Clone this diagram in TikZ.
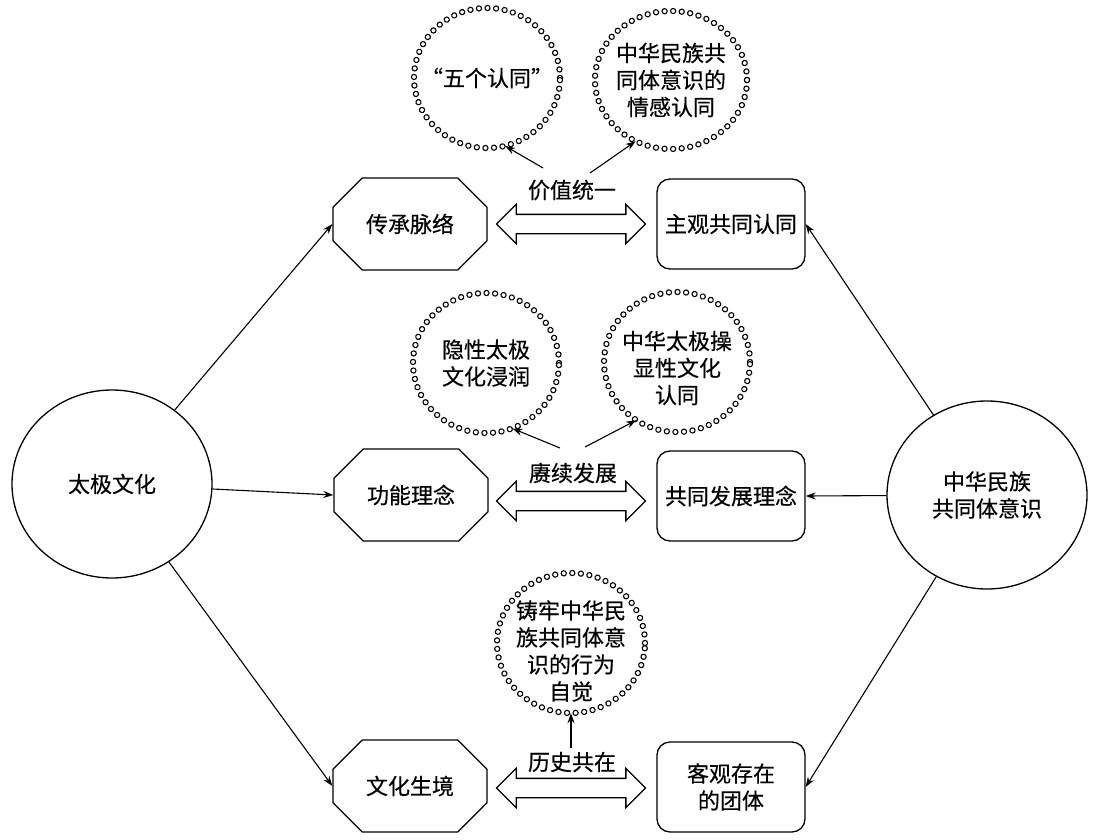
\documentclass[tikz,border=0pt]{standalone}
\usepackage{fontspec}
\newfontfamily\cjk[FakeBold=0.4]{Noto Sans CJK SC}
\usetikzlibrary{shapes.geometric, shapes.misc, shapes.arrows, arrows.meta, decorations.markings}

\tikzset{
  every node/.style={font=\cjk\fontsize{22}{27}\selectfont, align=center},
  bigring/.style={ellipse, draw, line width=1.3pt, minimum width=200pt, minimum height=188pt, inner sep=0pt},
  octbox/.style={chamfered rectangle, draw, line width=1.3pt, chamfered rectangle xsep=19pt,
    chamfered rectangle ysep=19pt, minimum width=154pt, minimum height=92pt, inner sep=0pt},
  roundbox/.style={rectangle, draw, line width=1.3pt, rounded corners=13pt, minimum width=148pt,
    minimum height=90pt, inner sep=0pt},
  dotring/.style={ellipse, minimum width=146pt, minimum height=140pt, inner sep=0pt,
    postaction={decorate, decoration={markings, mark=between positions 0 and 1 step 8.6pt with
      {\draw[line width=1.1pt, fill=white] (0,0) circle (2.6pt);}}}},
  twoway/.style={double arrow, draw, line width=1.3pt, double arrow head extend=10pt,
    minimum height=149pt, inner sep=9pt},
  link/.style={-{Stealth[length=10pt, width=7pt]}, line width=1.1pt}
}

\begin{document}
\begin{tikzpicture}[x=1pt, y=-1pt]
  \useasboundingbox (0,0) rectangle (1095,840);

  % two big circles
  \node[bigring] (taiji) at (112,484) {太极文化};
  \node[bigring] (gongti) at (987,495) {中华民族\\共同体意识};

  % left column
  \node[octbox] (chuancheng) at (410,224) {传承脉络};
  \node[octbox] (gongneng) at (411,495) {功能理念};
  \node[octbox] (shengjing) at (410,786) {文化生境};

  % right column
  \node[roundbox] (zhuguan) at (731,224) {主观共同认同};
  \node[roundbox] (fazhan) at (731,496) {共同发展理念};
  \node[roundbox] (keguan) at (731,787) {客观存在\\的团体};

  % double arrows and their labels
  \node[twoway] (a1) at (571,224) {};
  \node[twoway] (a2) at (571,501) {};
  \node[twoway] (a3) at (571,788) {};
  \node (jiazhi) at (572,190) {价值统一};
  \node (gengxu) at (573,473) {赓续发展};
  \node (lishi) at (572,762) {历史共在};

  % dotted circles, text set as centre labels
  \node[dotring, label={center:“五个认同”}] (wuge) at (487,78) {};
  \node[dotring, minimum width=152pt, minimum height=138pt,
    label={center:中华民族共\\同体意识的\\情感认同}] (qinggan) at (671,80) {};
  \node[dotring, label={center:隐性太极\\文化浸润}] (yinxing) at (486,363) {};
  \node[dotring, label={[yshift=-6pt]center:中华太极操\\显性文化\\认同}] (xianxing) at (677,362) {};
  \node[dotring, minimum width=148pt,
    label={[yshift=-8pt]center:铸牢中华民\\族共同体意\\识的行为\\自觉}] (zijue) at (571,643) {};

  % free ends of the small arrows
  \coordinate (j1) at (543,168);
  \coordinate (j2) at (590,173);
  \coordinate (g1) at (560,448);
  \coordinate (g2) at (585,447);
  \coordinate (l1) at (571,748);

  \draw[link] (j1) -- (wuge.-75);
  \draw[link] (j2) -- (qinggan.-120);
  \draw[link] (g1) -- (yinxing.-68);
  \draw[link] (g2) -- (xianxing.-125);
  \draw[link] (l1) -- (zijue.south);

  % connectors from the big circles
  \draw[link] (taiji) -- (chuancheng.west);
  \draw[link] (taiji) -- (gongneng.west);
  \draw[link] (taiji) -- (shengjing.west);
  \draw[link] (gongti) -- (zhuguan.east);
  \draw[link] (gongti) -- (fazhan.east);
  \draw[link] (gongti) -- (keguan.east);
\end{tikzpicture}
\end{document}
